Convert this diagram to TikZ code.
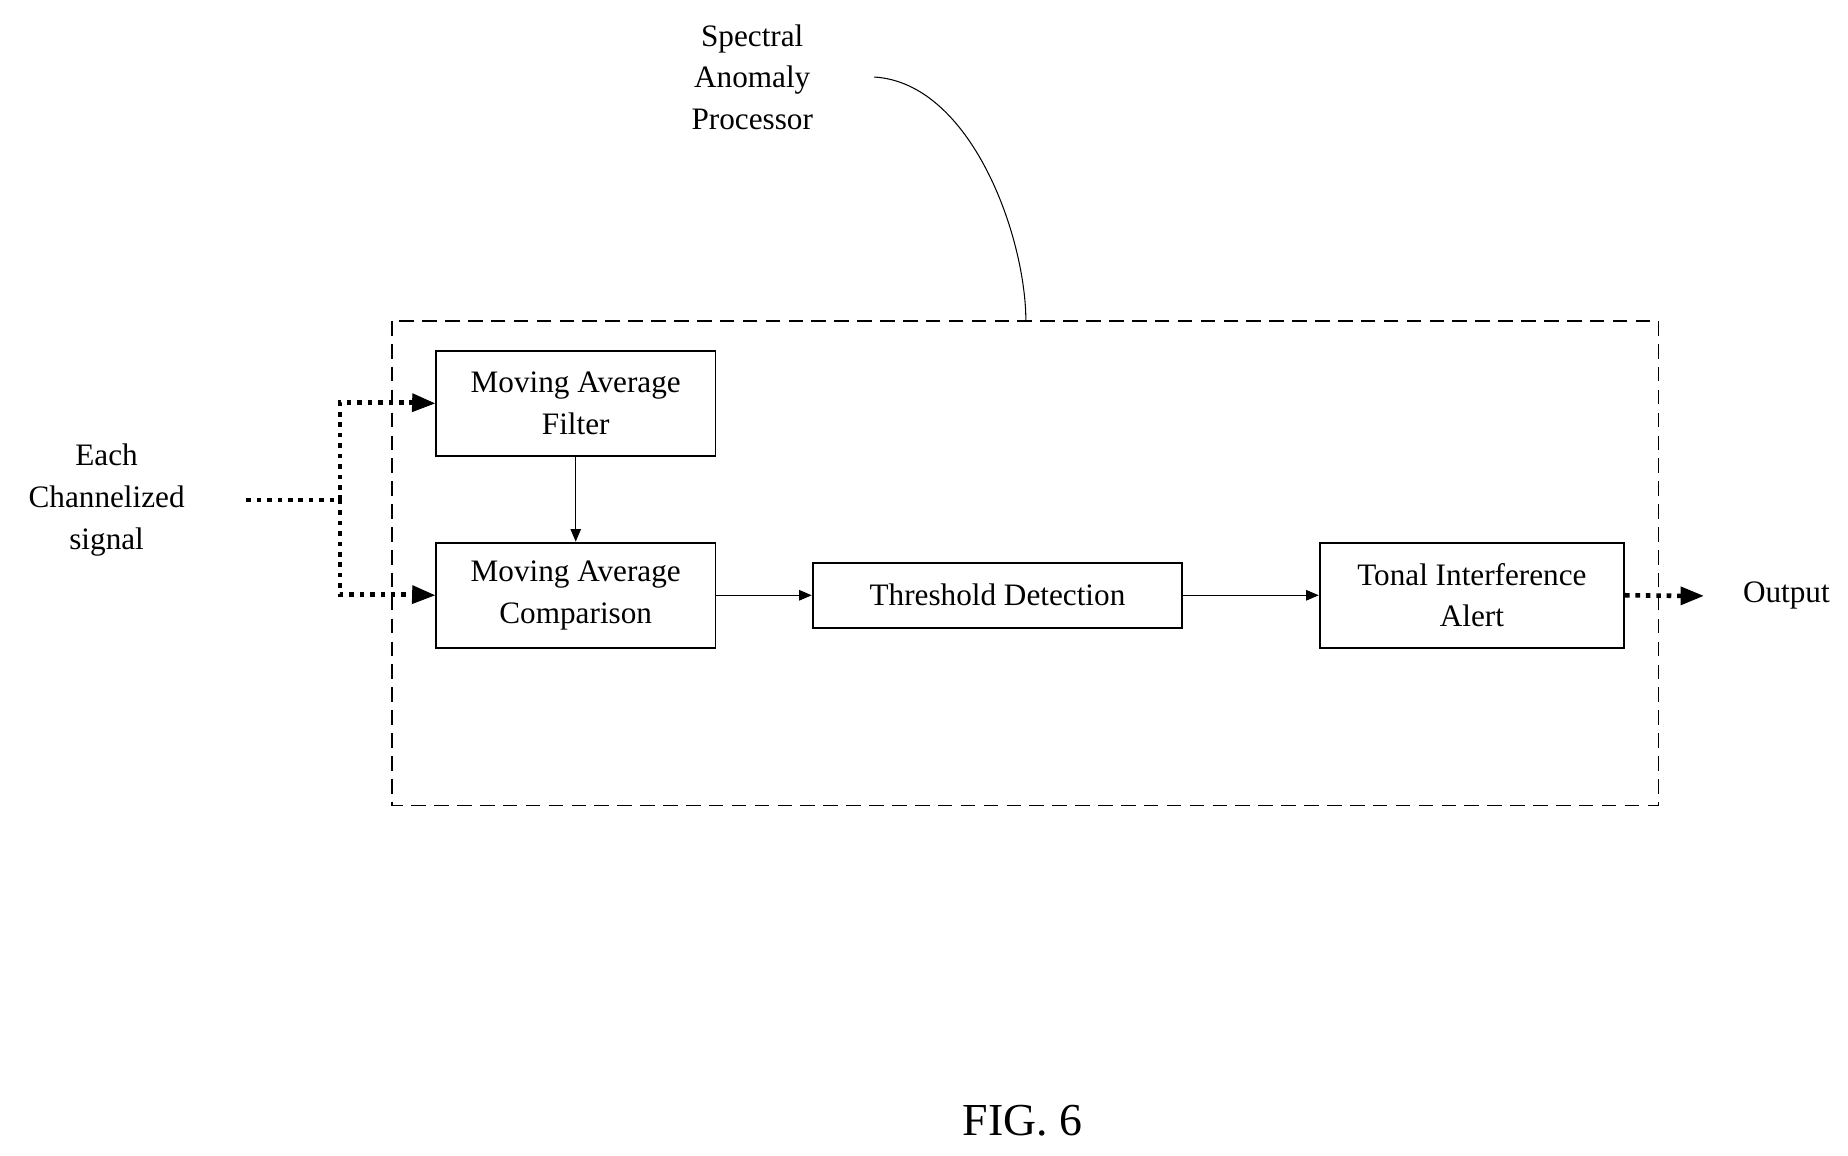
\documentclass[tikz,border=0pt]{standalone}
\usepackage{fontspec}
\setmainfont{Liberation Serif}
\usetikzlibrary{arrows.meta}
\begin{document}
\begin{tikzpicture}[x=0.02cm,y=-0.02cm,
  blk/.style={draw,line width=0.9pt,minimum height=#1*0.02cm,align=center,font=\fontsize{15}{20}\selectfont,inner sep=0pt},
  lbl/.style={align=center,font=\fontsize{15}{20}\selectfont},
  thin/.style={line width=0.5pt,-{Triangle[length=6pt,width=5pt]}},
  dot/.style={line width=2.2pt,dash pattern=on 2.2pt off 2.8pt}]
\useasboundingbox (0,0) rectangle (1560,975);
\draw[line width=0.9pt,dash pattern=on 7pt off 4pt] (331,271) rectangle (1400,680);
\node[blk=89,minimum width=236*0.02cm] (maf) at (486,340.5) {Moving Average\\Filter};
\node[blk=89,minimum width=236*0.02cm] (mac) at (486,502.5) {Moving Average\\Comparison};
\node[blk=55,minimum width=312*0.02cm] (thr) at (842,502.5) {Threshold Detection};
\node[blk=89,minimum width=257*0.02cm] (tia) at (1242.5,502.5) {Tonal Interference\\Alert};
\node[lbl] (in) at (90,422) {Each\\Channelized\\signal};
\node[lbl] (out) at (1508,503) {Output};
\node[lbl] (sap) at (635,65) {Spectral\\Anomaly\\Processor};
\node[font=\fontsize{22}{26}\selectfont] (fig) at (863,946) {FIG. 6};
\coordinate (s) at (208,422);
\coordinate (j) at (287,422);
\coordinate (oe) at (1438,503);
\coordinate (c0) at (738,65);
\coordinate (c1) at (866,271);
\draw[dot] (s) -- (j);
\draw[dot] (j) -- (287,340) -- (352,340);
\draw[dot] (j) -- (287,502) -- (352,502);
\draw[-{Triangle[length=11pt,width=9pt]},line width=0.5pt] (350,340) -- (maf.west);
\draw[-{Triangle[length=11pt,width=9pt]},line width=0.5pt] (350,502) -- (mac.west);
\draw[dot] (tia.east) -- (1422,503);
\draw[-{Triangle[length=11pt,width=9pt]},line width=0.5pt] (1420,503) -- (oe);
\draw[thin] (maf) -- (mac);
\draw[thin] (mac) -- (thr);
\draw[thin] (thr) -- (tia);
\draw[line width=0.5pt] (c0) .. controls (820,70) and (866,200) .. (c1);
\end{tikzpicture}
\end{document}
